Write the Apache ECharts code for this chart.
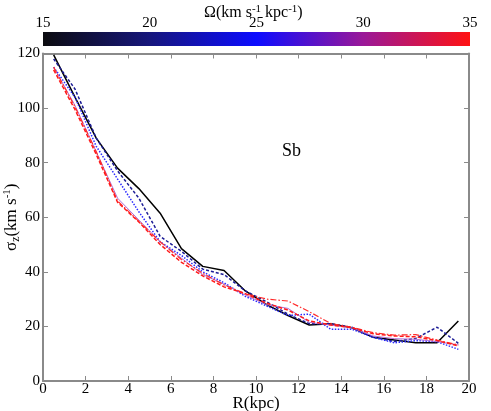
<!DOCTYPE html>
<html>
<head>
<meta charset="utf-8">
<script src="https://cdn.jsdelivr.net/npm/echarts@6/dist/echarts.min.js"></script>
<style>
  html, body { margin: 0; padding: 0; background: #fff; }
  #chart { width: 491px; height: 411px; }
</style>
</head>
<body>
<div id="chart"></div>
<script>
// radius bins (kpc)
const radius = [0.5, 1.5, 2.5, 3.5, 4.5, 5.5, 6.5, 7.5, 8.5, 9.5, 10.5, 11.5, 12.5, 13.5, 14.5, 15.5, 16.5, 17.5, 18.5, 19.5]
// sigma_z for each pattern speed
const sigBlack = [119.5, 104, 89, 78, 70.5, 61.5, 48.5, 42, 40.5, 33, 28, 24, 20.5, 21, 19.5, 16, 15, 14, 14, 22]
const sigNavy = [118, 107, 89, 77, 67, 53, 47.5, 41, 39, 33, 29, 24.5, 21, 21, 19.7, 16, 14.5, 15.6, 19.7, 13.8]
const sigBlue = [115, 104, 86, 74, 62, 51, 46, 40, 36, 31, 27.5, 24, 24.5, 19, 19, 16, 14, 14.8, 14.4, 11.6]
const sigViolet = [115, 101, 84, 67, 59, 51, 45, 39, 35.5, 31.5, 28, 26.6, 21.5, 20.5, 19.5, 16.5, 15.5, 15.3, 14.4, 13.2]
const sigRedDot = [115, 100.5, 84, 66, 58.5, 51, 44.5, 39.5, 35.2, 32, 30, 29.3, 25.4, 21.1, 19.7, 17.7, 16.8, 17, 15, 13.2]
const sigRedDash = [114, 99.5, 83, 65.5, 58.3, 50, 43.5, 38.5, 34.5, 32, 28.5, 26, 22, 20.5, 19.5, 17.3, 16.5, 16.2, 14.8, 12.9]
// colour bar ticks
const omegaTicks = [15, 20, 25, 30, 35]

const font = 'Liberation Serif'
const grey = '#8a8a8a'

function pts(ys) {
  return radius.map((r, i) => [r, ys[i]])
}

function line(name, ys, color, width, type) {
  return {
    name: name,
    type: 'line',
    data: pts(ys),
    symbol: 'none',
    silent: true,
    lineStyle: { color: color, width: width, type: type }
  }
}

let myChart = echarts.init(document.getElementById('chart'))
let option = {
  animation: false,
  backgroundColor: '#fff',
  textStyle: { fontFamily: font },
  grid: [
    { left: 43, right: 22, top: 53.5, bottom: 30, outerBoundsMode: 'none', containLabel: false },
    // colour bar
    {
      left: 43, right: 21, top: 32, height: 14,
      outerBoundsMode: 'none', containLabel: false,
      show: true,
      borderWidth: 0,
      backgroundColor: new echarts.graphic.LinearGradient(0, 0, 1, 0, [
        { offset: 0, color: '#0c0c10' },
        { offset: 0.25, color: '#16167c' },
        { offset: 0.5, color: '#0c0cff' },
        { offset: 0.75, color: '#9a1898' },
        { offset: 1, color: '#ff1212' }
      ])
    }
  ],
  xAxis: [
    {
      type: 'value', min: 0, max: 20, interval: 2,
      name: 'R(kpc)', nameLocation: 'middle', nameGap: 14, nameMoveOverlap: false,
      nameTextStyle: { fontFamily: font, fontSize: 17, color: '#000' },
      axisLine: { lineStyle: { color: grey, width: 2 } },
      axisTick: { inside: true, length: 5, lineStyle: { color: grey } },
      axisLabel: { fontFamily: font, fontSize: 15, color: '#000', margin: 1 },
      splitLine: { show: false }
    },
    {
      type: 'value', min: 0, max: 20, interval: 2, position: 'top',
      axisLine: { onZero: false, lineStyle: { color: grey, width: 2 } },
      axisTick: { inside: true, length: 5, lineStyle: { color: grey } },
      axisLabel: { show: false },
      splitLine: { show: false }
    },
    {
      gridIndex: 1, type: 'value', min: 15, max: 35, interval: 5, position: 'top',
      axisLine: { show: false },
      axisTick: { show: false },
      axisLabel: { fontFamily: font, fontSize: 15, color: '#000', margin: 1 },
      splitLine: { show: false }
    }
  ],
  yAxis: [
    {
      type: 'value', min: 0, max: 120, interval: 20,
      name: '{t|σ}{s|z}{t|(km s}{p|-1}{t|)}', nameLocation: 'middle', nameGap: 21, nameRotate: 90,
      nameMoveOverlap: false,
      nameTextStyle: {
        color: '#000',
        rich: {
          t: { fontFamily: font, fontSize: 17, color: '#000' },
          s: { fontFamily: font, fontSize: 12, color: '#000', verticalAlign: 'bottom', padding: [8, 0, 0, 0] },
          p: { fontFamily: font, fontSize: 11, color: '#000', verticalAlign: 'top', padding: [0, 0, 8, 0] }
        }
      },
      axisLine: { show: true, lineStyle: { color: grey, width: 2 } },
      axisTick: { inside: true, length: 5, lineStyle: { color: grey } },
      axisLabel: { fontFamily: font, fontSize: 15, color: '#000', margin: 3 },
      splitLine: { show: false }
    },
    {
      type: 'value', min: 0, max: 120, interval: 20, position: 'right',
      axisLine: { show: true, onZero: false, lineStyle: { color: grey, width: 2 } },
      axisTick: { inside: true, length: 5, lineStyle: { color: grey } },
      axisLabel: { show: false },
      splitLine: { show: false }
    },
    { gridIndex: 1, type: 'value', min: 0, max: 1, show: false }
  ],
  graphic: [
    {
      type: 'text', left: 204, top: 4,
      style: {
        text: '{t|Ω(km s}{p|-1}{t| kpc}{p|-1}{t|)}',
        rich: {
          t: { fontFamily: font, fontSize: 16, fill: '#000' },
          p: { fontFamily: font, fontSize: 11, fill: '#000', verticalAlign: 'top', padding: [0, 0, 7, 0] }
        }
      }
    },
    {
      type: 'text', left: 282, top: 142,
      style: { text: 'Sb', fontFamily: font, fontSize: 18, fill: '#000' }
    }
  ],
  series: [
    line('Ω15', sigBlack, '#000000', 1.5, 'solid'),
    line('Ω20', sigNavy, '#1c1c96', 1.5, [3, 2]),
    line('Ω25', sigBlue, '#2a2aff', 1.5, [1.5, 1.5]),
    line('Ω30', sigViolet, '#b070d8', 1, 'solid'),
    line('Ω35 dot', sigRedDot, '#ff2a2a', 1.2, [6, 2, 1.5, 2]),
    line('Ω35', sigRedDash, '#ff1a1a', 1.5, [4, 2])
  ]
}
myChart.setOption(option, true)
</script>
</body>
</html>
